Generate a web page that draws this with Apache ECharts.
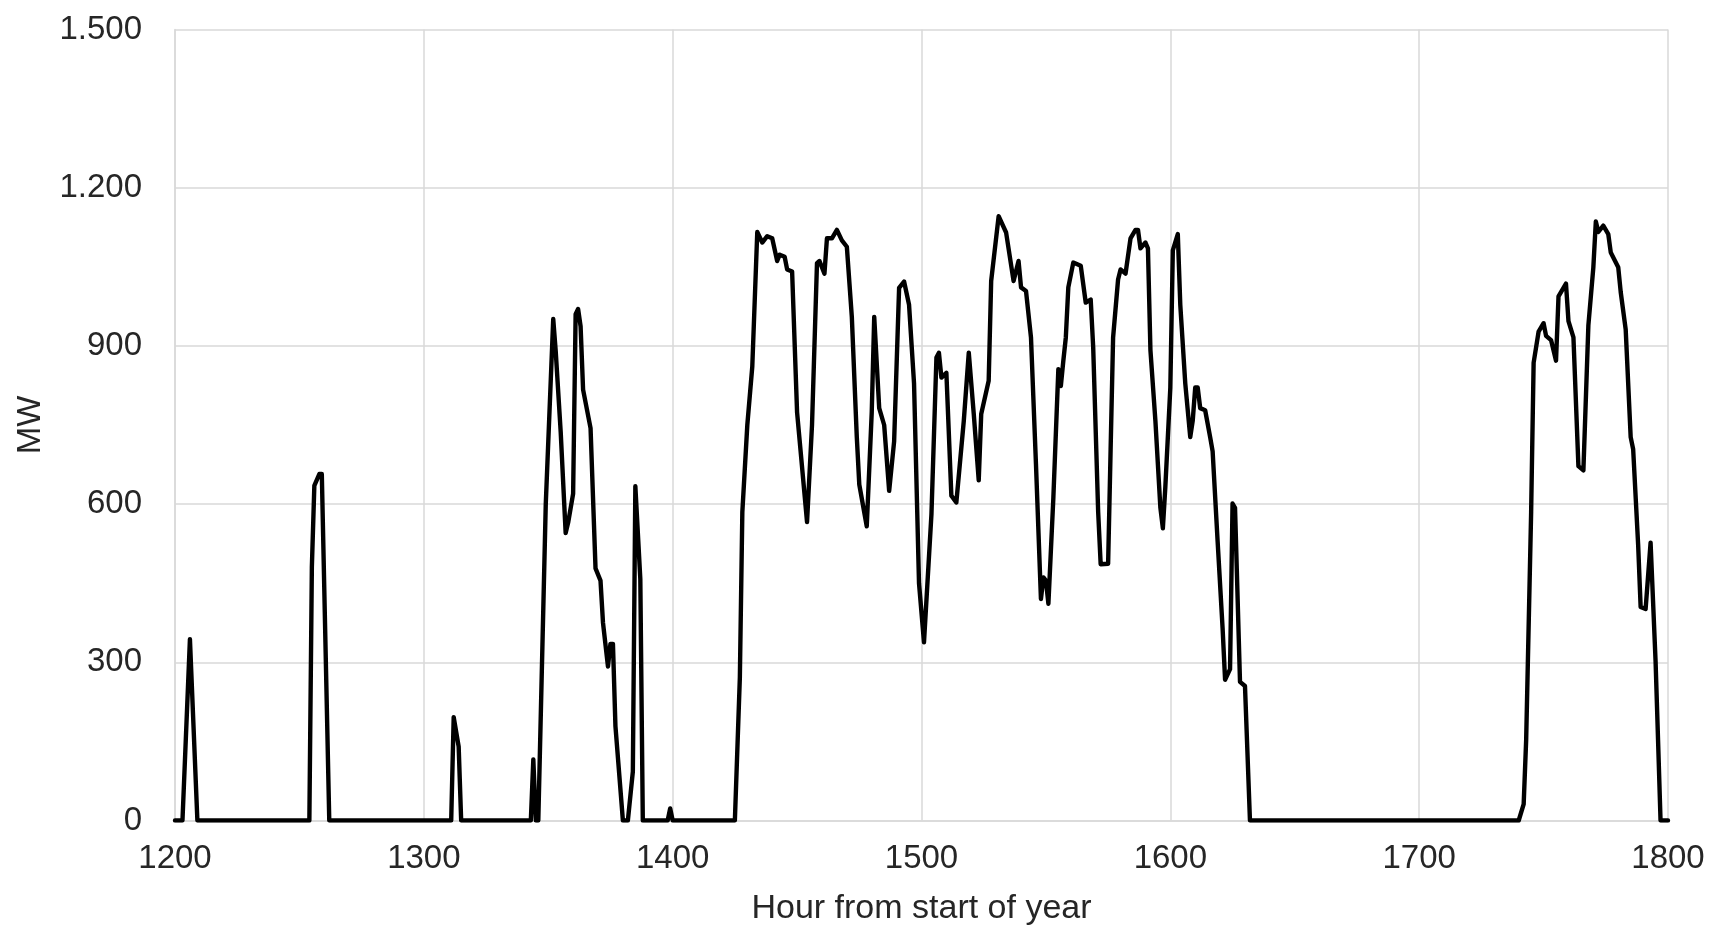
<!DOCTYPE html>
<html>
<head>
<meta charset="utf-8">
<title>Hourly output (MW)</title>
<script src="https://cdn.jsdelivr.net/npm/echarts@6/dist/echarts.min.js"></script>
<style>
  html, body { margin: 0; padding: 0; background: #ffffff; }
  #chart { width: 1711px; height: 932px; }
</style>
</head>
<body>
<div id="chart"></div>
<script>
// Hour from start of year at each vertex of the output trace
const hours = [
  1200, 1203, 1206, 1209,
  1254, 1255, 1256, 1258, 1259, 1262,
  1311, 1312, 1314, 1315,
  1343, 1344, 1345, 1346, 1349, 1352, 1353, 1355, 1357, 1358, 1360, 1361, 1362, 1363, 1364,
  1367, 1369, 1371, 1372, 1374, 1375, 1376, 1377, 1380, 1382, 1384, 1385, 1387, 1388,
  1398, 1399, 1400,
  1425, 1427, 1428, 1430, 1432, 1434, 1436, 1438, 1440, 1442, 1443, 1445, 1446, 1448,
  1450, 1454, 1456, 1458, 1459, 1461, 1462, 1464, 1466, 1468, 1470, 1472, 1474, 1475,
  1478, 1480, 1481, 1483, 1485, 1487, 1489, 1491, 1493, 1495, 1497, 1499,
  1501, 1504, 1506, 1507, 1508, 1510, 1512, 1514, 1517, 1519, 1521, 1523, 1524, 1527,
  1528, 1531, 1534, 1537, 1539, 1540, 1542, 1544, 1546, 1548, 1549, 1550, 1551, 1553,
  1555, 1556, 1557, 1558, 1559, 1561, 1564, 1566, 1568, 1569, 1571, 1572, 1575, 1576,
  1577, 1579, 1580, 1582, 1584, 1586, 1587, 1588, 1590, 1591, 1592, 1594, 1596, 1597,
  1598, 1600, 1601, 1603, 1604, 1606, 1608, 1609, 1610, 1611, 1612, 1614, 1616, 1617,
  1619, 1621, 1622, 1624, 1625, 1626, 1628, 1630, 1632,
  1740, 1742, 1743, 1745, 1746, 1748, 1750, 1751, 1753, 1755, 1756, 1758, 1759, 1760,
  1762, 1764, 1766, 1768, 1770, 1771, 1772, 1774, 1776, 1777, 1780, 1781, 1783, 1785,
  1786, 1788, 1789, 1791, 1793, 1795, 1796, 1797, 1800
];

// Output in MW at the same vertices
const mw = [
  0, 0, 344, 0,
  0, 480, 635, 657, 657, 0,
  0, 196, 140, 0,
  0, 116, 0, 0, 600, 951, 890, 737, 545, 565, 620, 960, 970, 937, 817,
  744, 478, 455, 375, 292, 335, 335, 179, 0, 0, 93, 634, 458, 0,
  0, 23, 0,
  0, 271, 585, 750, 861, 1116, 1096, 1108, 1104, 1061, 1073, 1069, 1045, 1041,
  774, 566, 750, 1057, 1061, 1037, 1104, 1104, 1120, 1100, 1088, 955, 727, 637,
  558, 774, 955, 782, 750, 625, 719, 1010, 1022, 978, 829, 450,
  338, 581, 878, 887, 840, 849, 616, 603, 758, 887, 771, 645, 771, 834,
  1023, 1146, 1115, 1023, 1061, 1011, 1004, 916, 676, 420, 461, 455, 411, 613,
  856, 824, 872, 916, 1011, 1058, 1052, 982, 988, 897, 585, 486, 487, 703,
  916, 1026, 1045, 1037, 1104, 1120, 1120, 1085, 1096, 1085, 892, 758, 593, 554,
  633, 821, 1081, 1112, 978, 829, 727, 758, 821, 821, 782, 778, 727, 700,
  530, 365, 267, 287, 601, 593, 263, 255, 0,
  0, 31, 153, 585, 868, 927, 943, 919, 911, 872, 994, 1010, 1018, 947,
  916, 672, 664, 939, 1049, 1136, 1116, 1128, 1112, 1077, 1049, 1002, 931, 727,
  704, 523, 405, 401, 527, 303, 153, 0, 0
];

const xTicks = { min: 1200, max: 1800, step: 100 };
const yTicks = { min: 0, max: 1500, step: 300 };

const xTitle = 'Hour from start of year';
const yTitle = 'MW';

// Thousands grouped with a dot: 1500 -> "1.500"
function groupThousands(v) {
  return String(Math.round(v)).replace(/\B(?=(\d{3})+(?!\d))/g, '.');
}

// Hours are printed as plain integers
function plainNumber(v) {
  return String(Math.round(v));
}

const points = hours.map((h, i) => [h, mw[i]]);

const textColor = '#262626';
const gridColor = '#d9d9d9';
const fontFamily = '"Liberation Sans", Arial, sans-serif';

const chart = echarts.init(document.getElementById('chart'), null, { renderer: 'canvas' });

chart.setOption({
  animation: false,
  backgroundColor: '#ffffff',
  grid: { left: 175, right: 43, top: 29.5, bottom: 111.5, containLabel: false },
  xAxis: {
    type: 'value',
    min: xTicks.min,
    max: xTicks.max,
    interval: xTicks.step,
    name: xTitle,
    nameLocation: 'middle',
    nameGap: 71,
    nameTextStyle: { color: textColor, fontSize: 34, fontFamily: fontFamily },
    axisLine: { show: true, lineStyle: { color: gridColor, width: 1.5 } },
    axisTick: { show: false },
    axisLabel: {
      color: textColor, fontSize: 33, fontFamily: fontFamily, margin: 22,
      formatter: plainNumber
    },
    splitLine: { show: true, lineStyle: { color: gridColor, width: 1.5 } }
  },
  yAxis: {
    type: 'value',
    min: yTicks.min,
    max: yTicks.max,
    interval: yTicks.step,
    name: yTitle,
    nameLocation: 'middle',
    nameGap: 128,
    nameTextStyle: { color: textColor, fontSize: 33, fontFamily: fontFamily },
    axisLine: { show: true, lineStyle: { color: gridColor, width: 1.5 } },
    axisTick: { show: false },
    axisLabel: {
      color: textColor, fontSize: 33, fontFamily: fontFamily, margin: 33,
      formatter: groupThousands
    },
    splitLine: { show: true, lineStyle: { color: gridColor, width: 1.5 } }
  },
  series: [{
    type: 'line',
    data: points,
    showSymbol: false,
    smooth: false,
    lineStyle: { color: '#000000', width: 4.4, cap: 'round', join: 'round' },
    itemStyle: { color: '#000000' }
  }]
});
</script>
</body>
</html>
